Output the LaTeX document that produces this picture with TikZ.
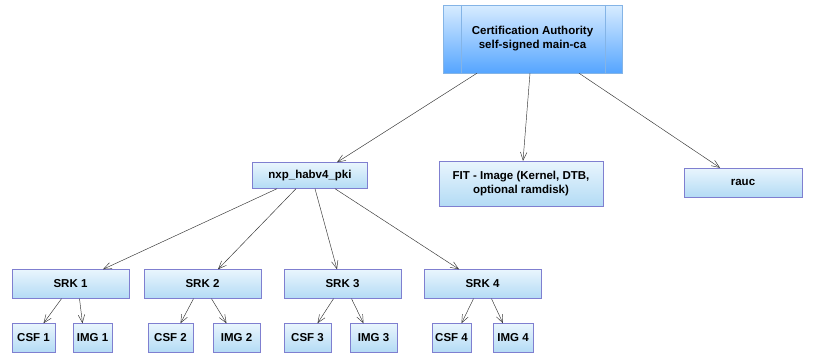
\documentclass[tikz,border=0pt]{standalone}
\usepackage{fontspec}
\setmainfont{Liberation Sans}
\usetikzlibrary{arrows.meta}
\definecolor{boxtop}{HTML}{E9F5FD}
\definecolor{boxbot}{HTML}{B3DBF5}
\definecolor{boxline}{HTML}{7F7FD0}
\definecolor{catop}{HTML}{D8ECFF}
\definecolor{camid}{HTML}{A9D1FF}
\definecolor{cabot}{HTML}{55A5FF}
\definecolor{caline}{HTML}{84B4E6}

\begin{document}
\begin{tikzpicture}[x=1pt,y=-1pt,
  box/.style={draw=boxline, top color=boxtop, bottom color=boxbot, inner sep=0pt,
    minimum height=29pt, align=center, font=\fontsize{11.5}{14}\selectfont\bfseries},
  link/.style={draw=black!80, line width=0.45pt, -{Straight Barb[length=8pt,width=6.5pt]}}]
\useasboundingbox[fill=white] (0,0) rectangle (814,360);
% root certificate
\node[box, draw=caline, top color=catop, middle color=camid, bottom color=cabot,
  minimum width=179pt, minimum height=68pt] (ca) at (532.5,39) {Certification Authority\\self-signed main-ca};
\draw[caline] ([xshift=18pt]ca.north west) -- ([xshift=18pt]ca.south west);
\draw[caline] ([xshift=-17pt]ca.north east) -- ([xshift=-17pt]ca.south east);
% second level
\node[box, minimum width=115pt, minimum height=26pt] (nxp) at (310,175.5) {nxp\_habv4\_pki};
\node[box, minimum width=164pt, minimum height=45pt] (fit) at (521,183.5) {FIT - Image (Kernel, DTB,\\optional ramdisk)};
\node[box, minimum width=118pt] (rauc) at (743,182.5) {rauc};
\draw[link] ([xshift=-55.5pt]ca.south) -- ([xshift=27pt]nxp.north);
\draw[link] ([xshift=-2.5pt]ca.south) -- ([xshift=2pt]fit.north);
\draw[link] ([xshift=46.5pt]ca.south) -- ([xshift=-23pt]rauc.north);
% SRK keys with their CSF and IMG keys
\foreach \k/\sx/\cx/\cw/\ix/\iw in {1/70.5/33.5/43/92.5/39, 2/202.5/170.5/45/236.5/47,
    3/342.5/307.5/47/373.5/47, 4/482.5/451.5/39/513/40} {
  \node[box, minimum width=117pt] (srk\k) at (\sx,284) {SRK \k};
  \node[box, minimum width=\cw pt] (csf\k) at (\cx,338) {CSF \k};
  \node[box, minimum width=\iw pt] (img\k) at (\ix,338) {IMG \k};
  \draw[link] ([xshift=-9pt]srk\k.south) -- ([xshift=10pt]csf\k.north);
  \draw[link] ([xshift=9pt]srk\k.south) -- ([xshift=-10pt]img\k.north);
}
\foreach \k/\a/\b in {1/-33/32.5, 2/-14/15.5, 3/5/-5.5, 4/25/-23.5}
  \draw[link] ([xshift=\a pt]nxp.south) -- ([xshift=\b pt]srk\k.north);
\end{tikzpicture}
\end{document}
